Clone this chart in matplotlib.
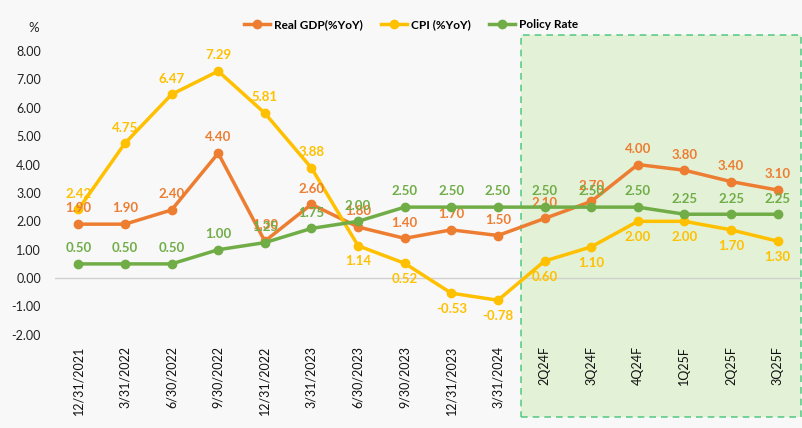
import matplotlib.pyplot as plt
import matplotlib.transforms as mtransforms
from matplotlib.patches import Rectangle

plt.rcParams['font.family'] = ['Lato', 'DejaVu Sans']

categories = ["12/31/2021", "3/31/2022", "6/30/2022", "9/30/2022", "12/31/2022",
              "3/31/2023", "6/30/2023", "9/30/2023", "12/31/2023", "3/31/2024",
              "2Q24F", "3Q24F", "4Q24F", "1Q25F", "2Q25F", "3Q25F"]
gdp = [1.90, 1.90, 2.40, 4.40, 1.30, 2.60, 1.80, 1.40, 1.70, 1.50,
       2.10, 2.70, 4.00, 3.80, 3.40, 3.10]
cpi = [2.42, 4.75, 6.47, 7.29, 5.81, 3.88, 1.14, 0.52, -0.53, -0.78,
       0.60, 1.10, 2.00, 2.00, 1.70, 1.30]
policy = [0.50, 0.50, 0.50, 1.00, 1.25, 1.75, 2.00, 2.50, 2.50, 2.50,
          2.50, 2.50, 2.50, 2.25, 2.25, 2.25]
yticks = [8, 7, 6, 5, 4, 3, 2, 1, 0, -1, -2]
forecast_start = 10

c_gdp = "#ED7D31"
c_cpi = "#FFC000"
c_pol = "#70AD47"

fig = plt.figure(figsize=(8.03, 4.28), dpi=100)
fig.patch.set_facecolor("#f8f8f8")
ax = fig.add_axes([0.0685, 0.201, 0.929, 0.717])
ax.set_facecolor("none")

x = list(range(len(categories)))

# forecast shaded box
trans = mtransforms.blended_transform_factory(ax.transData, ax.transAxes)
ax.add_patch(Rectangle((forecast_start - 0.5, -0.245), len(categories) - forecast_start, 1.245,
                       transform=trans, facecolor="#dcefcc", alpha=0.75, edgecolor="#2fbf6a",
                       linestyle=(0, (4, 3)), linewidth=1.2, clip_on=False, zorder=0))

ax.axhline(0, color="#d0d0d0", linewidth=1, zorder=1)

ax.plot(x, gdp, color=c_gdp, lw=2.5, marker="o", ms=6, label="Real GDP(%YoY)", zorder=3)
ax.plot(x, cpi, color=c_cpi, lw=2.5, marker="o", ms=6, label="CPI (%YoY)", zorder=3)
ax.plot(x, policy, color=c_pol, lw=2.5, marker="o", ms=6, label="Policy Rate", zorder=4)

lab = dict(ha="center", fontsize=9.5, fontweight="bold", textcoords="offset points")
for i, v in enumerate(gdp):
    ax.annotate(f"{v:.2f}", (i, v), xytext=(0, 7), va="bottom", color=c_gdp, **lab)
for i, v in enumerate(cpi):
    if i < 6:
        ax.annotate(f"{v:.2f}", (i, v), xytext=(0, 7), va="bottom", color=c_cpi, **lab)
    else:
        ax.annotate(f"{v:.2f}", (i, v), xytext=(0, -7), va="top", color=c_cpi, **lab)
for i, v in enumerate(policy):
    ax.annotate(f"{v:.2f}", (i, v), xytext=(0, 7), va="bottom", color=c_pol, **lab)

ax.set_xlim(-0.5, len(categories) - 0.5)
ax.set_ylim(-2.25, 8.56)
ax.set_xticks(x)
ax.set_xticklabels(categories, rotation=90, fontsize=9, color="#111111")
ax.set_yticks(yticks)
ax.set_yticklabels([f"{t:.2f}" for t in yticks], fontsize=9, color="#222222")
ax.tick_params(axis="y", length=0, pad=10)
ax.tick_params(axis="x", length=0, pad=3)
for s in ax.spines.values():
    s.set_visible(False)

fig.text(0.035, 0.925, "%", fontsize=9.5, color="#222222")
fig.legend(loc="upper center", bbox_to_anchor=(0.512, 0.98), ncol=3, frameon=False,
           prop={"weight": "bold", "size": 8.5}, handlelength=2.2, columnspacing=1.6,
           handletextpad=0.3)

plt.savefig("out.png", dpi=100, facecolor=fig.get_facecolor())
